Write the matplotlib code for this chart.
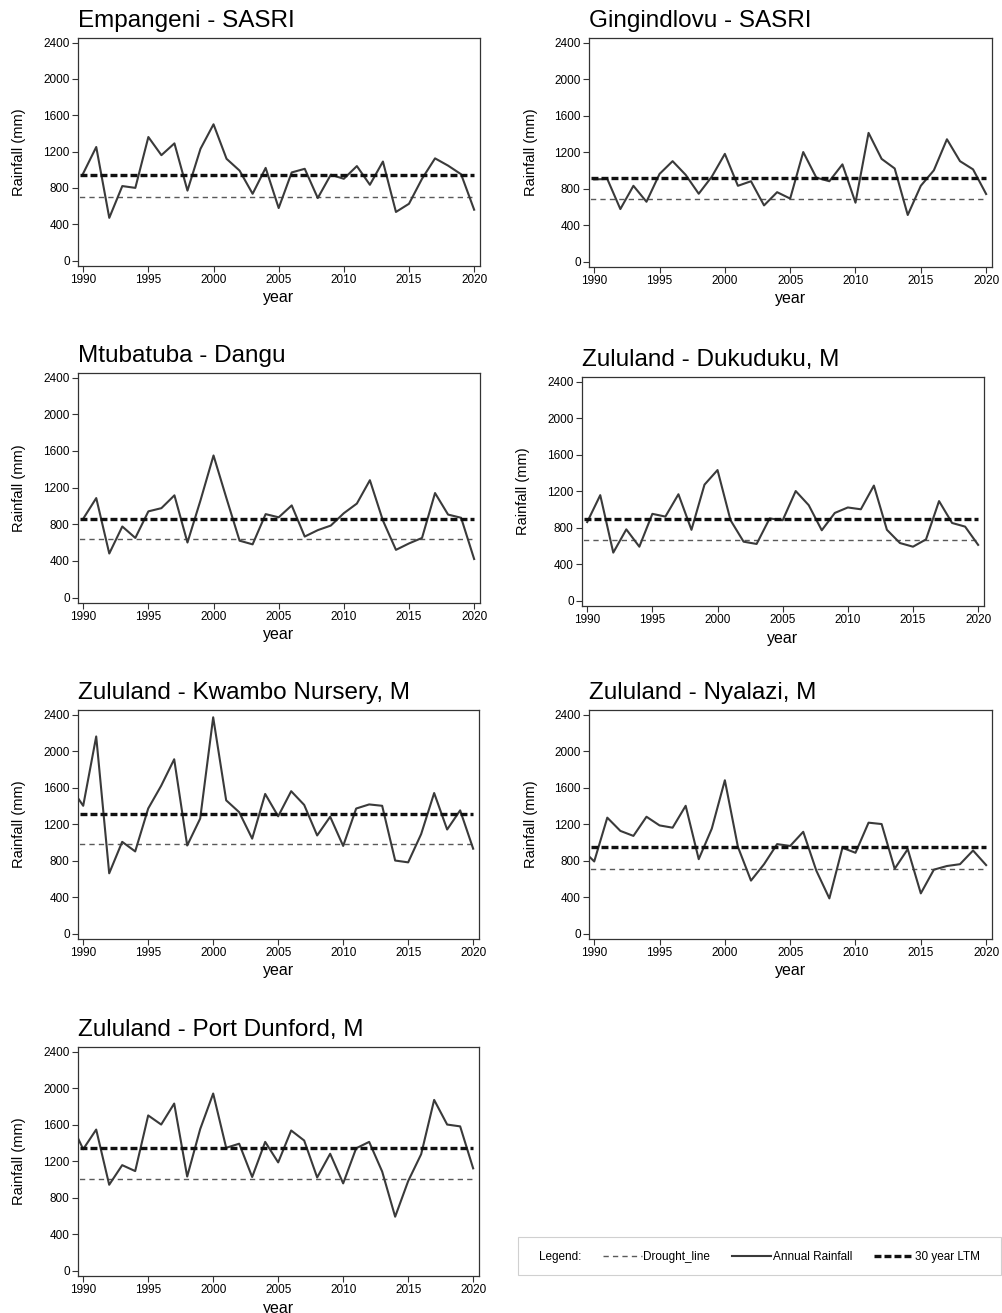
import numpy as np
import matplotlib
matplotlib.use("Agg")
import matplotlib.pyplot as plt
from matplotlib.patches import Rectangle

plt.rcParams["font.family"] = ["Liberation Sans", "DejaVu Sans"]
plt.rcParams["lines.scale_dashes"] = False

# hydrological years, 1989 only where the clipped segment is visible at the left edge
YEARS = np.arange(1989, 2021)
NA = np.nan

EMPANGENI = [NA, 960, 1250, 470, 820, 800, 1360, 1160, 1290, 770, 1230, 1500, 1120, 990, 735, 1020,
             578, 970, 1010, 688, 945, 900, 1040, 834, 1090, 535, 625, 900, 1125, 1045, 950, 560]
GINGINDLOVU = [NA, 900, 905, 575, 830, 655, 960, 1100, 950, 743, 930, 1180, 830, 880, 615, 760,
               690, 1200, 920, 880, 1065, 645, 1410, 1125, 1020, 510, 830, 1000, 1340, 1100, 1010, 740]
MTUBATUBA = [NA, 860, 1085, 480, 775, 650, 940, 975, 1115, 600, 1060, 1550, 1080, 620, 580, 910,
             875, 1005, 665, 735, 785, 920, 1025, 1280, 840, 520, 590, 650, 1140, 905, 870, 420]
DUKUDUKU = [NA, 860, 1155, 525, 780, 590, 950, 920, 1165, 775, 1270, 1430, 880, 645, 620, 900,
            880, 1200, 1045, 770, 960, 1020, 1000, 1260, 775, 630, 590, 670, 1090, 850, 810, 610]
KWAMBO = [1610, 1400, 2160, 660, 1005, 900, 1370, 1620, 1910, 965, 1260, 2370, 1460, 1330, 1040, 1530,
          1285, 1560, 1410, 1075, 1280, 960, 1370, 1415, 1400, 800, 780, 1090, 1540, 1140, 1350, 930]
NYALAZI = [930, 790, 1270, 1125, 1070, 1280, 1185, 1160, 1400, 815, 1150, 1680, 950, 580, 760, 980,
           960, 1115, 690, 385, 940, 885, 1215, 1200, 710, 925, 440, 700, 740, 760, 910, 750]
PORT_DUNFORD = [1630, 1330, 1545, 940, 1155, 1090, 1700, 1600, 1830, 1030, 1550, 1940, 1345, 1390, 1025, 1410,
                1185, 1535, 1425, 1020, 1280, 955, 1340, 1410, 1085, 590, 980, 1275, 1870, 1600, 1580, 1120]

TITLES = ["Empangeni - SASRI", "Gingindlovu - SASRI", "Mtubatuba - Dangu", "Zululand - Dukuduku, M",
          "Zululand - Kwambo Nursery, M", "Zululand - Nyalazi, M", "Zululand - Port Dunford, M"]
SERIES = [EMPANGENI, GINGINDLOVU, MTUBATUBA, DUKUDUKU, KWAMBO, NYALAZI, PORT_DUNFORD]
LTM = [945, 915, 860, 890, 1310, 950, 1340]
DROUGHT = [705, 685, 640, 665, 985, 705, 1005]

YTICKS = [0, 400, 800, 1200, 1600, 2000, 2400]
XTICKS = [1990, 1995, 2000, 2005, 2010, 2015, 2020]

W, H = 1002, 1313
# pixel boxes (left, top, right, bottom)
BOXES = [(78, 38, 480, 266), (589, 38, 992, 267), (78, 373, 480, 603), (582, 377, 984, 606),
         (78, 710, 479, 939), (589, 710, 992, 939), (78, 1047, 479, 1276)]

fig = plt.figure(figsize=(W / 100, H / 100), dpi=100)
handles = None
for title, vals, ltm, dr, (l, t, r, b) in zip(TITLES, SERIES, LTM, DROUGHT, BOXES):
    ax = fig.add_axes([l / W, 1 - b / H, (r - l) / W, (b - t) / H])
    d, = ax.plot(YEARS, [dr] * len(YEARS), color="#5a5a5a", lw=1.0, dashes=(3.8, 3.0))
    a, = ax.plot(YEARS, vals, color="#3a3a3a", lw=1.5)
    m, = ax.plot(YEARS, [ltm] * len(YEARS), color="#111111", lw=2.4, dashes=(5.0, 2.2))
    if handles is None:
        handles = [d, a, m]
    ax.set_xlim(1989.6, 2020.45)
    ax.set_ylim(-60, 2450)
    ax.set_xticks(XTICKS)
    ax.set_yticks(YTICKS)
    ax.tick_params(labelsize=8.5, length=4, width=0.8, color="#333333", pad=2)
    for s in ax.spines.values():
        s.set_color("#333333")
        s.set_linewidth(0.9)
    ax.set_title(title, loc="left", fontsize=17.5, pad=8)
    ax.set_ylabel("Rainfall (mm)", fontsize=10.5, labelpad=12)
    ax.set_xlabel("year", fontsize=11.5, labelpad=3)

# legend box
fig.patches.append(Rectangle((518 / W, 1 - 1275 / H), (1001 - 518) / W, 38 / H, transform=fig.transFigure,
                             facecolor="white", edgecolor="#d0d0d0", lw=0.8))
fig.text(539 / W, 1 - 1257 / H, "Legend:", fontsize=8.5, va="center")
fig.legend(handles, ["Drought_line", "Annual Rainfall", "30 year LTM"], ncol=3, loc="center left",
           bbox_to_anchor=(603 / W, 1 - 1257 / H), frameon=False, fontsize=8.5, handlelength=3.3,
           handletextpad=0.1, columnspacing=1.9, borderaxespad=0, borderpad=0)

fig.savefig("out.png", dpi=100)
